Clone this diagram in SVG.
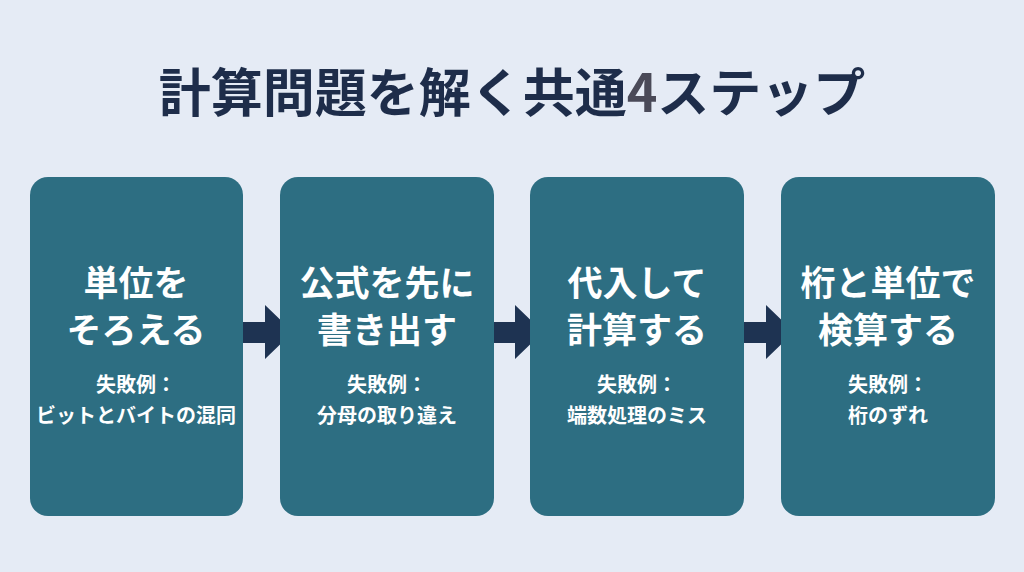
<svg xmlns="http://www.w3.org/2000/svg" width="1024" height="572" viewBox="0 0 1024 572">
<style>
text{font-family:"Noto Sans CJK JP","Noto Sans",sans-serif;text-anchor:middle;font-weight:700}
.box{fill:#2d6e82}
.h{fill:#fff;font-size:35px}
.s{fill:#fff;font-size:20px}
.arr{fill:#1e3352}
</style>
<rect width="1024" height="572" fill="#e5ebf5"/>
<text x="512" y="112" font-size="52" fill="#1e2d4a">計算問題を解く共通<tspan fill="#4a4a58">4</tspan>ステップ</text>
<g id="connectors">
<path class="arr" d="M230 322H265V305L293 332L265 359V343H230Z"/>
<path class="arr" d="M480 322H515V305L543 332L515 359V343H480Z"/>
<path class="arr" d="M731 322H766V305L794 332L766 359V343H731Z"/>
</g>
<g id="n1"><rect class="box" x="30" y="177" width="213" height="339" rx="18"/>
<text class="h" x="136" y="296">単位を</text><text class="h" x="136" y="343">そろえる</text>
<text class="s" x="136" y="392">失敗例：</text><text class="s" x="136" y="423">ビットとバイトの混同</text></g>
<g id="n2"><rect class="box" x="280" y="177" width="214" height="339" rx="18"/>
<text class="h" x="387" y="296">公式を先に</text><text class="h" x="387" y="343">書き出す</text>
<text class="s" x="387" y="392">失敗例：</text><text class="s" x="387" y="423">分母の取り違え</text></g>
<g id="n3"><rect class="box" x="530" y="177" width="214" height="339" rx="18"/>
<text class="h" x="637" y="296">代入して</text><text class="h" x="637" y="343">計算する</text>
<text class="s" x="637" y="392">失敗例：</text><text class="s" x="637" y="423">端数処理のミス</text></g>
<g id="n4"><rect class="box" x="781" y="177" width="214" height="339" rx="18"/>
<text class="h" x="888" y="296">桁と単位で</text><text class="h" x="888" y="343">検算する</text>
<text class="s" x="888" y="392">失敗例：</text><text class="s" x="888" y="423">桁のずれ</text></g>
</svg>
